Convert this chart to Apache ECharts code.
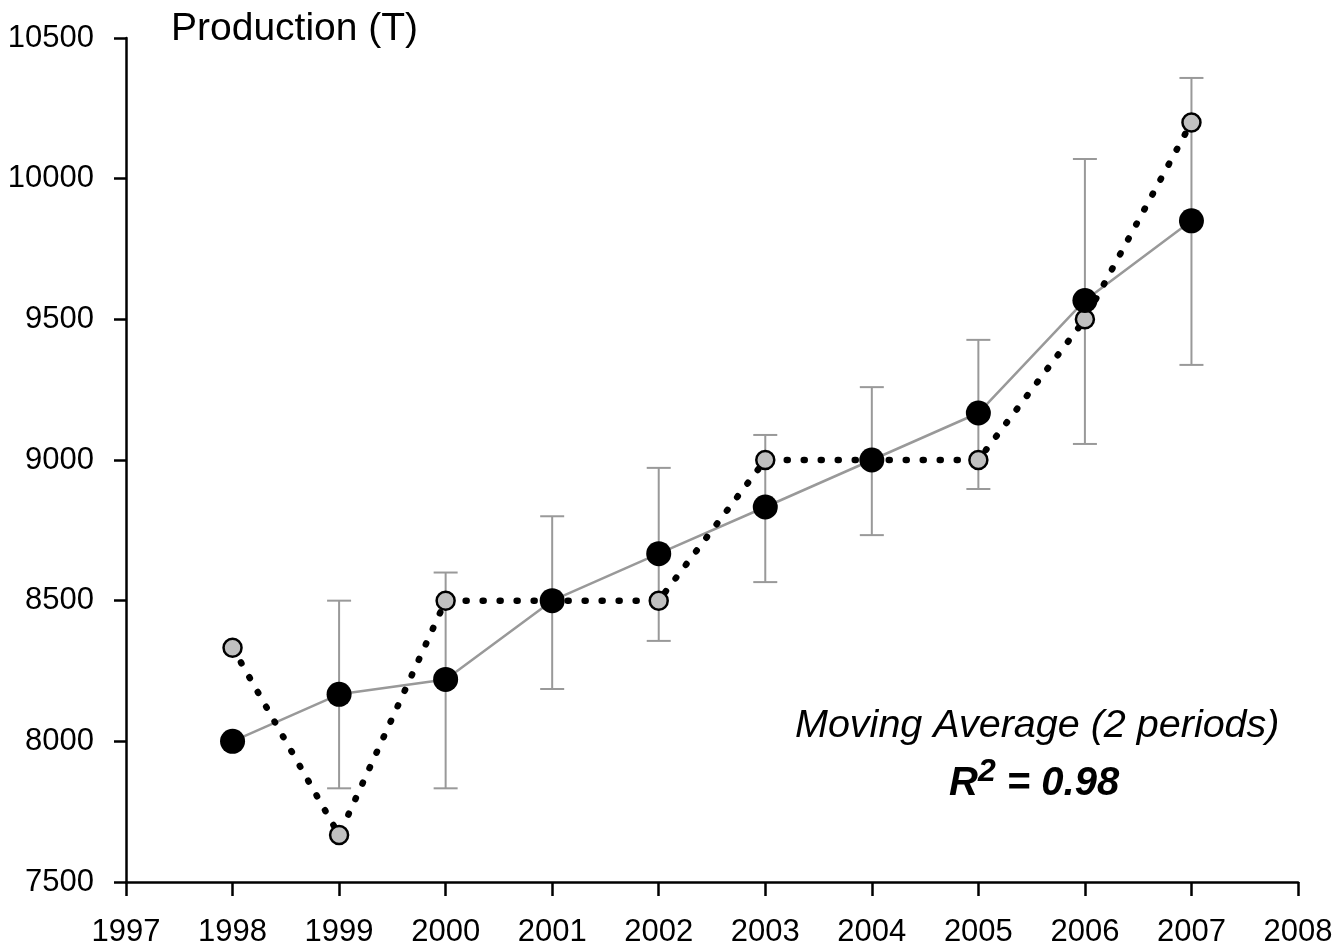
<!DOCTYPE html>
<html>
<head>
<meta charset="utf-8">
<script src="https://cdn.jsdelivr.net/npm/echarts@6/dist/echarts.min.js"></script>
<style>
html,body{margin:0;padding:0;background:#fff;}
#chart{width:1336px;height:951px;}
</style>
</head>
<body>
<div id="chart"></div>
<script>
const years = [1998, 1999, 2000, 2001, 2002, 2003, 2004, 2005, 2006, 2007];
const production = [8333, 7667, 8500, 8500, 8500, 9000, 9000, 9000, 9500, 10200];
const movingAvg = [8000, 8167, 8220, 8500, 8667, 8833, 9000, 9167, 9567, 9850];
const errLow = [null, 7833, 7833, 8186, 8357, 8566, 8733, 8897, 9057, 9338];
const errHigh = [null, 8500, 8600, 8800, 8972, 9089, 9259, 9427, 10070, 10358];
const yTicks = [7500, 8000, 8500, 9000, 9500, 10000, 10500];
const xTicks = [1997, 1998, 1999, 2000, 2001, 2002, 2003, 2004, 2005, 2006, 2007, 2008];
const yTitle = 'Production (T)';
const noteText = 'Moving Average (2 periods)';
const r2Text = '0.98';

const FONT = '"Liberation Sans", Arial, sans-serif';
const chart = echarts.init(document.getElementById('chart'));

const prodData = years.map((y, i) => [y, production[i]]);
const maData = years.map((y, i) => [y, movingAvg[i]]);
const errData = years.map((y, i) => [y, errLow[i], errHigh[i]]).filter(d => d[1] != null);

chart.setOption({
  animation: false,
  backgroundColor: '#fff',
  title: {
    text: yTitle, left: 166, top: 5,
    textStyle: {fontFamily: FONT, fontSize: 39, fontWeight: 'normal', color: '#000'}
  },
  grid: {left: 126, right: 38, top: 38, bottom: 69},
  xAxis: {
    type: 'value', min: 1997, max: 2008, interval: 1,
    axisLine: {show: true, lineStyle: {color: '#000', width: 2.5}},
    axisTick: {show: true, length: 14, lineStyle: {color: '#000', width: 2.5}},
    axisLabel: {margin: 35, fontFamily: FONT, fontSize: 31, color: '#000',
      formatter: v => xTicks.includes(v) ? String(v) : ''},
    splitLine: {show: false}
  },
  yAxis: {
    type: 'value', min: 7500, max: 10500, interval: 500,
    axisLine: {show: true, lineStyle: {color: '#000', width: 2.5}},
    axisTick: {show: true, length: 12, lineStyle: {color: '#000', width: 2.5}},
    axisLabel: {margin: 32, fontFamily: FONT, fontSize: 31, color: '#000',
      formatter: v => yTicks.includes(v) ? String(v) : ''},
    splitLine: {show: false}
  },
  graphic: [
    {type: 'text', left: 795, top: 706, z: 10,
      style: {text: noteText, font: 'italic 39.5px ' + FONT, fill: '#000'}},
    {type: 'text', left: 949, top: 756, z: 10,
      style: {
        text: '{r|R}{s|2}{r| = ' + r2Text + '}',
        rich: {
          r: {font: 'italic bold 40px ' + FONT, fill: '#000', verticalAlign: 'bottom', lineHeight: 48},
          s: {font: 'italic bold 32px ' + FONT, fill: '#000', verticalAlign: 'top', lineHeight: 32}
        }
      }}
  ],
  series: [
    {
      type: 'custom', z: 1, silent: true,
      data: errData,
      renderItem: function (params, api) {
        const x = api.value(0);
        const lo = api.coord([x, api.value(1)]);
        const hi = api.coord([x, api.value(2)]);
        const hw = 12;
        const st = {stroke: '#999', lineWidth: 2};
        return {type: 'group', children: [
          {type: 'line', shape: {x1: lo[0], y1: lo[1], x2: hi[0], y2: hi[1]}, style: st},
          {type: 'line', shape: {x1: lo[0] - hw, y1: lo[1], x2: lo[0] + hw, y2: lo[1]}, style: st},
          {type: 'line', shape: {x1: hi[0] - hw, y1: hi[1], x2: hi[0] + hw, y2: hi[1]}, style: st}
        ]};
      }
    },
    {
      type: 'line', z: 2, data: maData, showSymbol: false, symbol: 'none',
      lineStyle: {color: '#999', width: 2.5}
    },
    {
      type: 'line', z: 3, data: prodData, symbol: 'circle', symbolSize: 18,
      itemStyle: {color: '#c0c0c0', borderColor: '#000', borderWidth: 2.5},
      lineStyle: {color: '#000', width: 6.5, type: [1, 16], cap: 'round'}
    },
    {
      type: 'scatter', z: 4, data: maData, symbol: 'circle', symbolSize: 25,
      itemStyle: {color: '#000', opacity: 1}
    }
  ]
});
</script>
</body>
</html>
